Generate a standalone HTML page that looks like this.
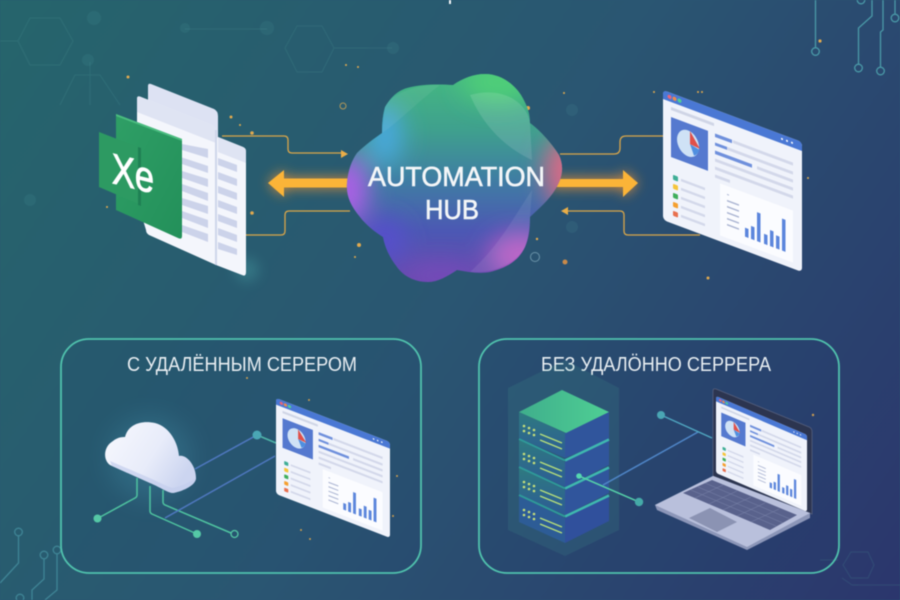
<!DOCTYPE html>
<html><head><meta charset="utf-8"><title>Automation Hub</title>
<style>html,body{margin:0;padding:0;background:#2a5672;overflow:hidden}svg{display:block;filter:blur(.5px)}text{font-family:"Liberation Sans",sans-serif}</style>
</head><body>
<svg xmlns="http://www.w3.org/2000/svg" width="900" height="600" viewBox="0 0 900 600">
<defs>
<linearGradient id="bg" gradientUnits="userSpaceOnUse" x1="0" y1="0" x2="900" y2="600"><stop offset="0" stop-color="#26656c"/><stop offset=".5" stop-color="#2a5672"/><stop offset="1" stop-color="#2b366d"/></linearGradient>
<linearGradient id="blobBase" x1="0" y1="0" x2="0" y2="1"><stop offset="0" stop-color="#45bb80"/><stop offset=".28" stop-color="#3fa08e"/><stop offset=".5" stop-color="#3f7fa2"/><stop offset=".75" stop-color="#4c58b4"/><stop offset="1" stop-color="#6a48ae"/></linearGradient>
<linearGradient id="cloudG" x1="0" y1="0" x2="1" y2=".5"><stop offset="0" stop-color="#f8f9fe"/><stop offset=".6" stop-color="#e8ecfa"/><stop offset="1" stop-color="#ccd5f0"/></linearGradient>
<linearGradient id="srvL" x1="0" y1="0" x2="0" y2="1"><stop offset="0" stop-color="#2f7a80"/><stop offset="1" stop-color="#2d5c96"/></linearGradient>
<linearGradient id="srvTop" x1="0" y1="0" x2="1" y2="0"><stop offset="0" stop-color="#3fae8c"/><stop offset="1" stop-color="#4fcf94"/></linearGradient>
<linearGradient id="xl" x1="0" y1="0" x2="1" y2="1"><stop offset="0" stop-color="#2f9f66"/><stop offset="1" stop-color="#23905a"/></linearGradient>
<filter id="b6" filterUnits="userSpaceOnUse" x="0" y="0" width="900" height="600"><feGaussianBlur stdDeviation="6"/></filter>
<filter id="b14" filterUnits="userSpaceOnUse" x="0" y="0" width="900" height="600"><feGaussianBlur stdDeviation="12"/></filter>
<clipPath id="blobClip"><path d="M453 85C463 78 474 74 485 74C500 74 513 83 521 95C527 105 530 113 530 123C540 130 553 145 559 155C565 168 562 180 553 193C545 204 535 212 530 217C530 232 528 240 525 247C518 262 505 268 490 272C480 274 468 272 457 270C448 276 438 282 428 282C412 282 402 274 397 267C390 258 385 248 383 237C375 232 366 225 360 217C350 205 346 195 347 183C348 170 352 160 357 153C365 145 375 138 382 133C382 122 383 114 385 107C392 95 400 90 407 88C420 84 440 84 453 85Z"/></clipPath>
<g id="dash">
<rect x="0" y="0" width="139" height="130" rx="4" fill="#f0f3fb"/>
<path d="M0 9V4Q0 0 4 0H135Q139 0 139 4V9Z" fill="#4a78d4"/>
<circle cx="6.500" cy="4.500" r="2" fill="#e8647a"/><circle cx="11.500" cy="4.500" r="2" fill="#ee8a4a"/><circle cx="16.500" cy="4.500" r="2" fill="#4fcf94"/>
<circle cx="119" cy="4.500" r="1" fill="#fff"/><circle cx="124" cy="4.500" r="1" fill="#fff"/><circle cx="129" cy="4.500" r="1" fill="#fff"/>
<rect x="8" y="14" width="43" height="3" fill="#cfd5e6"/>
<rect x="8" y="24" width="37" height="40" fill="#5579cf"/>
<ellipse cx="25" cy="44" rx="11" ry="13" fill="#cfe2f6"/>
<path d="M27 44L36 46A9 11 0 0 1 31 54Z" fill="#4f8fe0"/>
<path d="M27 44V31L37 45Z" fill="#e0504a"/>
<g fill="#d3d8ea">
<rect x="70" y="24" width="60" height="3"/><rect x="64" y="33" width="66" height="3"/><rect x="94" y="41" width="36" height="3"/><rect x="74" y="49" width="56" height="3"/><rect x="52" y="57" width="78" height="3"/><rect x="52" y="65" width="15" height="3"/>
<rect x="18" y="82" width="24" height="2.500"/><rect x="18" y="91" width="24" height="2.500"/><rect x="18" y="100" width="24" height="2.500"/><rect x="18" y="109" width="24" height="2.500"/><rect x="18" y="118" width="24" height="2.500"/>
</g>
<g fill="#6f90dc"><rect x="52" y="24" width="17" height="3.500"/><rect x="52" y="33" width="12" height="3"/><rect x="52" y="41" width="37" height="3.500"/><rect x="52" y="49" width="22" height="3" fill="#d3d8ea"/></g>
<rect x="10" y="81" width="5" height="5" rx="1" fill="#3fae96"/><rect x="10" y="90" width="5" height="5" rx="1" fill="#f5c53a"/><rect x="10" y="99" width="5" height="5" rx="1" fill="#3fae5a"/><rect x="10" y="108" width="5" height="5" rx="1" fill="#f5a030"/><rect x="10" y="117" width="5" height="5" rx="1" fill="#e8704f"/>
<rect x="57" y="72" width="73" height="52" fill="#fbfcff"/>
<g fill="#aab4d2"><rect x="64" y="80" width="2" height="1"/><rect x="64" y="86" width="12" height="1.500"/><rect x="64" y="92" width="12" height="1.500"/><rect x="64" y="98" width="12" height="1.500"/><rect x="64" y="104" width="12" height="1.500"/><rect x="64" y="110" width="12" height="1.500"/></g>
<g fill="#5c86dc"><rect x="82" y="107" width="3.500" height="9"/><rect x="88" y="103" width="3.500" height="13"/><rect x="94" y="87" width="3.500" height="29"/><rect x="101" y="106" width="3.500" height="10"/><rect x="107" y="100" width="3.500" height="16"/><rect x="113" y="103" width="3.500" height="13"/><rect x="119" y="84" width="3.500" height="32"/></g>
</g>
</defs>
<rect width="900" height="600" fill="url(#bg)"/>

<!-- faint background network -->
<g fill="none" stroke="#4f9a9a" stroke-opacity=".2" stroke-width="1">
<path d="M18 41L30 18H60L73 41L60 65H30ZM0 41H18M285 48L297 26H322L334 48L322 72H297ZM334 48H392M185 29H267"/>
<path d="M60 105L75 75H100L120 105M90 62V105"/>
<path d="M843 565L851 552H868L874 565L868 578H851ZM852 585L842 578M852 585H900M820 560H838"/>
</g>
<g fill="#5fb0b0" fill-opacity=".11"><circle cx="94" cy="18" r="7"/><circle cx="88" cy="60" r="6"/><circle cx="393" cy="48" r="6"/><circle cx="185" cy="28" r="5"/><circle cx="267" cy="28" r="7"/><circle cx="572" cy="110" r="6"/><circle cx="572" cy="227" r="6"/><circle cx="30" cy="200" r="6"/></g>
<rect x="449" y="0" width="2" height="4" fill="#f4f6f8"/>

<!-- corner circuits -->
<g fill="none" stroke="#4a9aa8" stroke-width="1.300">
<path d="M815.500 0V47M872 0V16L858.500 28V64M883 0V30L880.500 32V67M895 0V14"/>
<circle cx="815.500" cy="51.500" r="3.800"/><circle cx="858.500" cy="68" r="3.800"/><circle cx="880.500" cy="71" r="3.800"/><circle cx="861" cy="0" r="3.800"/><circle cx="895" cy="18" r="3.800"/>
</g>
<g fill="none" stroke="#3f8596" stroke-width="1.300">
<path d="M18.500 536V563L0 583M44 559V579L32 590V600M57 554V590L45 600"/>
<circle cx="18.500" cy="532" r="3.800"/><circle cx="44" cy="555" r="3.800"/><circle cx="57" cy="550" r="3.800"/><circle cx="20" cy="598" r="3.800"/>
</g>

<!-- sparkles -->
<g fill="#e0a94f">
<circle cx="128" cy="77" r="1.500"/><circle cx="231" cy="117" r="1.500"/><circle cx="240" cy="125" r="1"/><circle cx="252" cy="213" r="1.800"/><circle cx="107" cy="207" r="1"/>
<circle cx="358" cy="67" r="1"/><circle cx="528" cy="108" r="2"/><circle cx="564" cy="93" r="1"/><circle cx="359" cy="245" r="2"/><circle cx="537" cy="239" r="1.200"/><circle cx="355" cy="257" r="1"/>
<circle cx="698" cy="92" r="1"/><circle cx="702" cy="92" r="1"/><circle cx="654" cy="92" r="1"/><circle cx="708" cy="115" r="1"/>
<circle cx="820" cy="41" r="1.600"/><circle cx="346" cy="65" r="1"/><circle cx="808" cy="178" r="1"/><circle cx="708" cy="278" r="1.500"/><circle cx="247" cy="378" r="1"/><circle cx="309" cy="400" r="1"/><circle cx="301" cy="530" r="1"/><circle cx="310" cy="539" r="1"/><circle cx="397" cy="476" r="1"/><circle cx="393" cy="516" r="1"/><circle cx="813" cy="415" r="1.200"/>
</g>
<circle cx="343" cy="106" r="3" fill="none" stroke="#b0975a" stroke-width="1"/>
<circle cx="535" cy="257" r="4.500" fill="none" stroke="#6a93a8" stroke-width="1"/>
<circle cx="565" cy="262" r="2.500" fill="#c98a4a"/>

<!-- panels -->
<rect x="61" y="339" width="360" height="234" rx="28" fill="#1f3a6a" fill-opacity=".1" stroke="#50c2ad" stroke-width="1.800"/>
<rect x="479" y="339" width="360" height="234" rx="28" fill="#1f3a6a" fill-opacity=".1" stroke="#50c2ad" stroke-width="1.800"/>
<text x="127" y="371" font-size="20" fill="#e8eef2" textLength="230" lengthAdjust="spacingAndGlyphs">С УДАЛЁННЫМ СЕРЕРОМ</text>
<text x="541" y="371" font-size="20" fill="#e8eef2" textLength="230" lengthAdjust="spacingAndGlyphs">БЕЗ УДАЛÖННО СЕРРЕРА</text>

<!-- thin arrows -->
<g fill="none" stroke="#d9a64a" stroke-width="1.300">
<path d="M222 136H284Q288 136 288 140V149Q288 153 292 153H343"/>
<path d="M246 235H281Q285 235 285 231V215Q285 211 289 211H350"/>
<path d="M560 154H614Q620 154 620 148V142Q620 136 626 136H664"/>
<path d="M566 211H620Q624 211 624 215V231Q624 235 628 235H700"/>
</g>
<path d="M348 154L341 150V158ZM561 211L568 207V215Z" fill="#eaae48"/>
<circle cx="252" cy="133" r="1.800" fill="#e0a94f"/>

<!-- big arrows -->
<g filter="url(#b6)" fill="#ff9a2e" opacity=".8"><path d="M268 183L284 170V178H360V188H284V197Z"/><path d="M638 183L623 170V178H550V188H623V197Z"/></g>
<path d="M268 183L284 170V178.500H360V187.500H284V197Z" fill="#fbb438"/>
<path d="M638 183L623 170V179H550V187H623V197Z" fill="#fbb438"/>

<!-- blob -->
<g clip-path="url(#blobClip)">
<rect x="340" y="70" width="230" height="215" fill="url(#blobBase)"/>
<g filter="url(#b14)">
<ellipse cx="498" cy="82" rx="36" ry="20" fill="#4fcf78"/>
<ellipse cx="385" cy="135" rx="18" ry="32" fill="#4aa8dc"/>
<ellipse cx="348" cy="190" rx="20" ry="34" fill="#ad60e6"/>
<ellipse cx="568" cy="172" rx="24" ry="36" fill="#d86a86"/>
<ellipse cx="520" cy="255" rx="32" ry="22" fill="#b85cc4"/>
<ellipse cx="385" cy="240" rx="20" ry="22" fill="#5650cc"/>
<ellipse cx="440" cy="275" rx="36" ry="10" fill="#7a4cbc"/>
</g>
<path d="M470 95C485 130 510 150 532 160L530 123C528 105 505 85 470 95Z" fill="#fff" fill-opacity=".12"/>
<path d="M532 190C515 215 500 245 470 272C490 274 515 265 525 247C530 232 530 222 530 217Z" fill="#fff" fill-opacity=".08"/>
<path d="M382 133C395 125 420 100 440 85C420 84 392 92 385 107Z" fill="#fff" fill-opacity=".06"/>
</g>
<g fill="#f4f6f8" stroke="#f4f6f8" stroke-width=".6" font-size="28">
<text x="368" y="186" textLength="177" lengthAdjust="spacingAndGlyphs">AUTOMATION</text>
<text x="425" y="219" textLength="54" lengthAdjust="spacingAndGlyphs">HUB</text>
</g>

<!-- spreadsheet -->
<circle cx="247" cy="270" r="12" fill="#4fb0b0" opacity=".3" filter="url(#b6)"/>
<path d="M148 86Q148 83 151 84L214 109Q218 111 218 116V145L148 118Z" fill="#dde2f3"/>
<path d="M218 137L243 147Q246 148 246 152V272Q246 277 242 275L216 265V140Z" fill="#f4f6fc"/>
<path d="M218 137L243 147Q246 148 246 152V163L218 152Z" fill="#dfe4f3"/>
<path d="M137 99Q137 95 141 97L212 125Q216 127 216 131V265L149 235Q146 233 146 230L137 200Z" fill="#f4f6fc"/>
<path d="M137 99Q137 95 141 97L212 125Q216 127 216 131V143L137 112Z" fill="#dfe4f3"/>
<rect x="215" y="130" width="2" height="135" fill="#cfd6ea"/>
<g fill="#ccd3ea">
<path d="M182 144L208 149V158L182 150Z"/><path d="M182 157.500L208 166V173L182 164Z"/><path d="M182 171L208 179V187L182 178Z"/><path d="M182 184L208 193V201L182 191Z"/><path d="M182 198L208 206V214L182 205Z"/><path d="M182 211L208 220V228L182 218Z"/><path d="M182 225L208 234V242L182 232Z"/>
<path d="M218 158L237 165V172L218 165Z"/><path d="M218 172L237 179V186L218 179Z"/><path d="M218 186L237 193V200L218 193Z"/><path d="M218 200L237 207V214L218 207Z"/><path d="M218 214L237 221V228L218 221Z"/><path d="M218 228L237 235V242L218 235Z"/><path d="M218 242L237 249V255L218 249Z"/>
</g>
<path d="M116 114L182 139V236Q182 240 178 238L116 210Z" fill="url(#xl)"/>
<path d="M116 114L182 139V141L116 116Z" fill="#4bbd80"/>
<path d="M99 132L138 147L141 205L99 187Z" fill="#2d9a62"/>
<path d="M138 147L141 148V206L138 205Z" fill="#1f8054"/>
<text transform="translate(112 183) skewY(14)" font-size="43" fill="#fff" stroke="#fff" stroke-width="1" textLength="42" lengthAdjust="spacingAndGlyphs">Xe</text>

<!-- main dashboard -->
<g transform="matrix(1 .374 0 1 663 90)"><use href="#dash"/></g>

<!-- left panel cloud -->
<circle cx="150" cy="458" r="42" fill="#4fa8c0" opacity=".22" filter="url(#b14)"/>
<g fill="none" stroke="#4fc3a0" stroke-width="1.500">
<path d="M137 478V495Q137 497 135 498L97.500 518.500M150 486V511Q150 513 152 514L197 534M163 490V502Q163 504 165 505L231 533"/>
</g>
<circle cx="97.500" cy="518.500" r="4" fill="#55c8a6"/><circle cx="197" cy="534" r="4" fill="#55c8a6"/>
<circle cx="234.500" cy="534" r="3.500" fill="none" stroke="#55c8a6" stroke-width="1.300"/>
<path d="M195 469L257 435" stroke="#4f78c0" stroke-width="1.500" fill="none"/>
<path d="M165 518L275 456" stroke="#4f78c0" stroke-width="1.500" fill="none"/>
<path d="M257 435L276 443" stroke="#4fb5a8" stroke-width="1.500" fill="none"/>
<circle cx="257" cy="435" r="4.500" fill="#4aa6b4"/>
<path d="M110 465C103 460 103 447 113 441C118 437 122 437 125 437C128 425 140 420 155 423C170 427 178 443 179 456C186 454 196 465 196 478C196 486 180 492 173 493C168 493 160 487 150 483L112 466Z" fill="url(#cloudG)"/>
<path d="M112 466L150 483C160 487 168 493 173 493C180 492 196 486 196 478C190 482 182 486 173 488C165 486 155 480 145 476L110 461Z" fill="#c3cdec" opacity=".7"/>
<g transform="matrix(.82 .3165 0 .738 276 398)"><use href="#dash"/></g>

<!-- server -->
<path d="M508 388L565 360L619 388V530L565 556L508 530Z" fill="#4fb09a" fill-opacity=".13"/>
<path d="M519 496L565 518V543L519 522Z" fill="#2d5c96"/><path d="M565 518L609 496V521L565 543Z" fill="#30509c"/>
<path d="M519 468L565 490V515L519 494Z" fill="url(#srvL)"/><path d="M565 490L609 468V493L565 515Z" fill="#30559c"/>
<path d="M519 440L565 462V487L519 466Z" fill="url(#srvL)"/><path d="M565 462L609 440V465L565 487Z" fill="#30559c"/>
<path d="M519 412L565 433V458L519 438Z" fill="url(#srvL)"/><path d="M565 433L609 412V440L565 458Z" fill="#30559c"/>
<path d="M562 390L609 412L566 433L519 412Z" fill="url(#srvTop)"/>
<g fill="none" stroke="#3fb8b0" stroke-width="2.500"><path d="M565 460.500L609 439.500M565 488.500L609 467.500M565 516.500L609 495.500"/></g>
<g fill="none" stroke="#2f9a9a" stroke-width="2"><path d="M519 439L565 460.500M519 467L565 488.500M519 495L565 516.500"/></g>
<g fill="none" stroke="#b8e07a" stroke-width="1.400">
<path d="M540 434L562 443M540 440L562 449M540 462L562 471M540 468L562 477M540 490L562 499M540 496L562 505M540 518L562 527M540 524L562 533"/>
</g>
<g fill="#c8e07a">
<g id="dts"><circle cx="524" cy="426" r="1.300"/><circle cx="529" cy="428" r="1.300"/><circle cx="534" cy="430" r="1.300"/><circle cx="524" cy="431" r="1.300"/><circle cx="529" cy="433" r="1.300"/><circle cx="534" cy="435" r="1.300"/></g>
<use href="#dts" y="28"/><use href="#dts" y="56"/><use href="#dts" y="84"/>
</g>
<path d="M603 485L698 432" stroke="#4f86c8" stroke-width="1.500" fill="none"/>
<path d="M661 415L712 438" stroke="#4fa6c0" stroke-width="1.500" fill="none"/>
<circle cx="661" cy="415" r="4" fill="#4aa6b4"/>
<path d="M579 476L639 502" stroke="#55d0a8" stroke-width="1.500" fill="none"/>
<circle cx="579" cy="476" r="2.800" fill="#55d8b0"/><circle cx="639" cy="502" r="4.200" fill="#45aaa8"/>

<!-- laptop -->
<path d="M713 391Q713 388 716 389L809 427Q812 428 812 432V514L713 476Z" fill="#2c3550" stroke="#56607e" stroke-width=".8"/>
<g transform="matrix(.655 .28 0 .592 716 396)"><use href="#dash"/></g>
<path d="M713 476L810 513V518L747 550L657 510L655 505Z" fill="#8c96b8"/>
<path d="M713 476L810 513L747 547L655 505Z" fill="#b9c0dc"/>
<path d="M712 480L797 515L770 530L683 493Z" fill="#59628c"/>
<g stroke="#7a84aa" stroke-width=".5" fill="none"><path d="M705 483L790 519M698 487L783 523M691 490L776 526"/><path d="M723 485L695 498M737 491L709 504M751 497L723 510M765 503L737 516M779 509L751 522"/></g>
<path d="M710 508L737 522L717 532L689 518Z" fill="#8b93b3"/>
</svg>
</body></html>
